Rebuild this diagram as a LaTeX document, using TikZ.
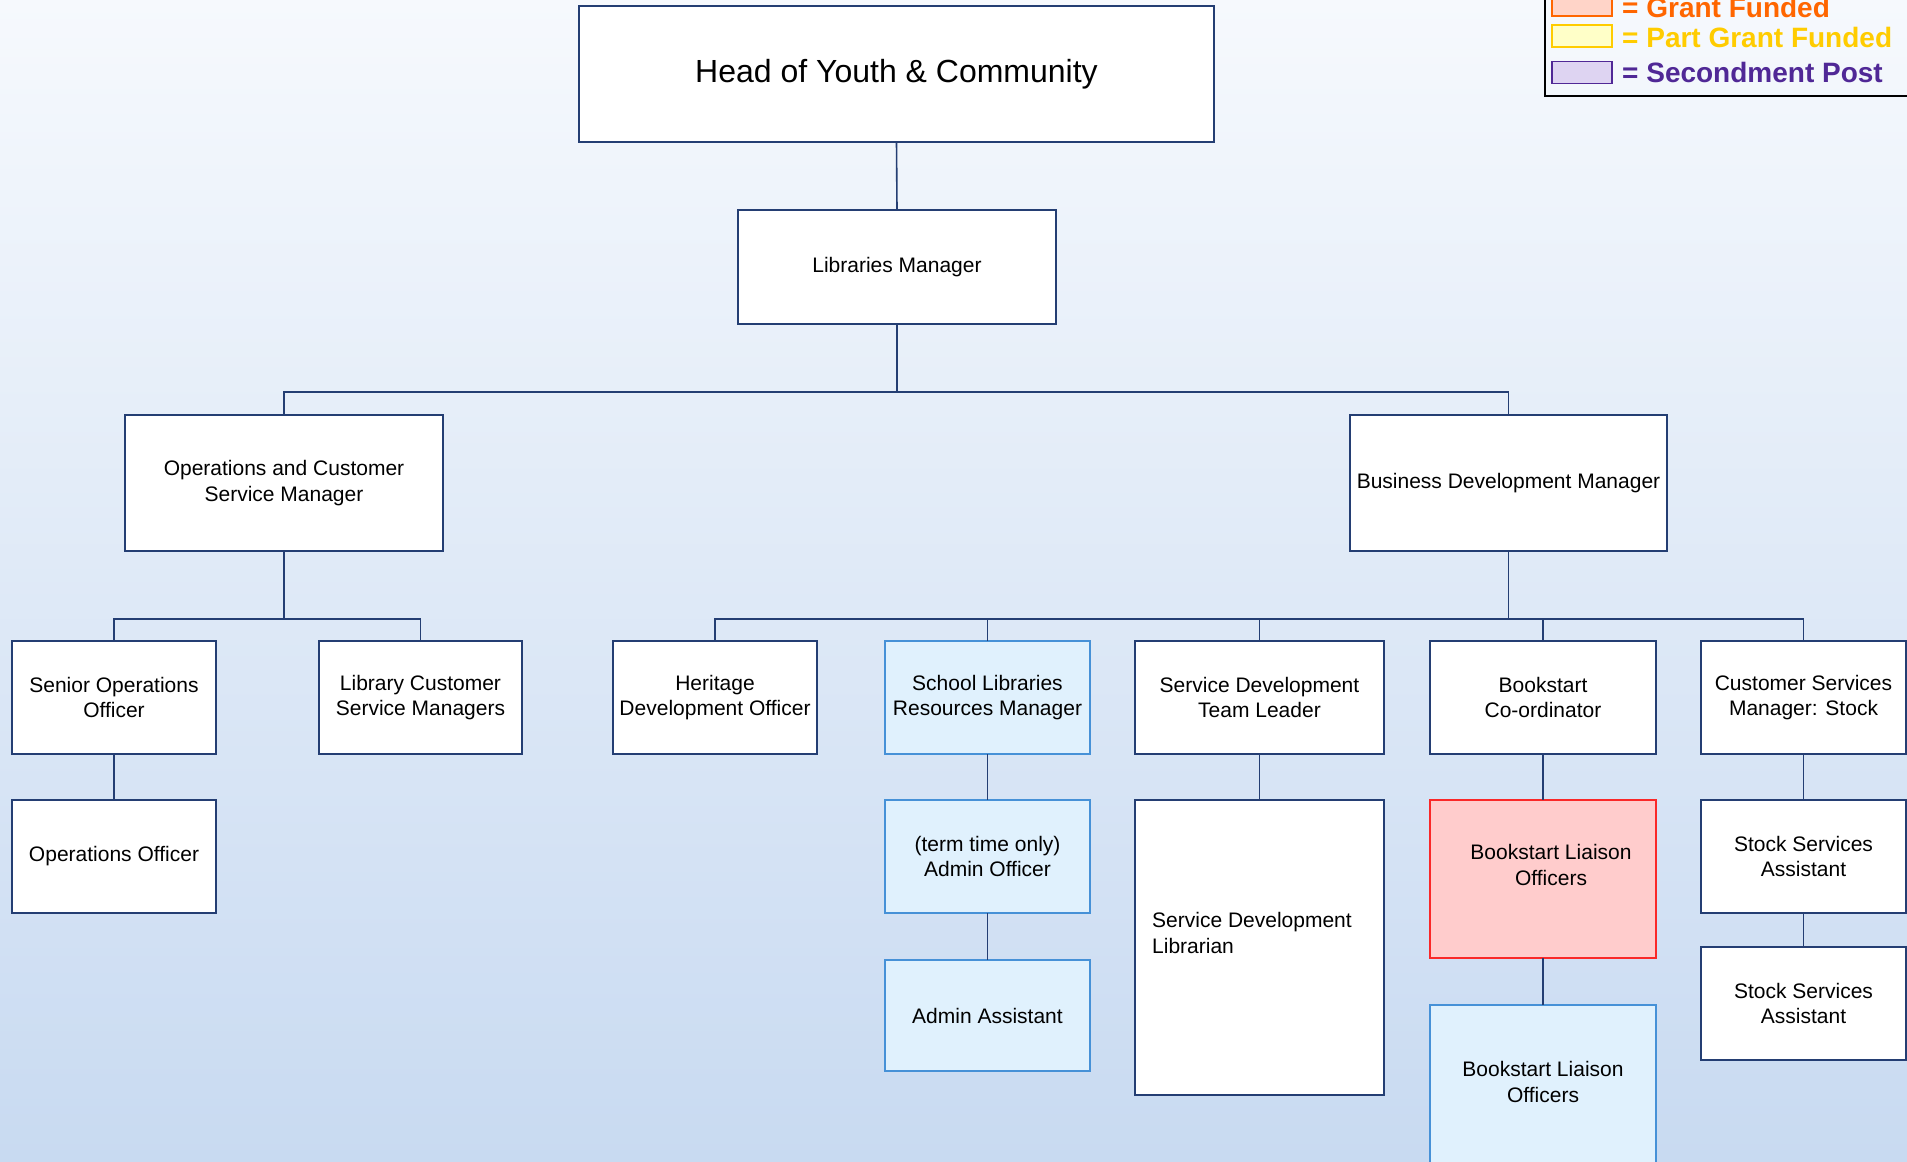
\documentclass[tikz,border=0pt]{standalone}
\usepackage{fontspec}
\setmainfont{Liberation Sans}
\definecolor{lineC}{RGB}{36,62,115}
\definecolor{bgTop}{RGB}{246,249,253}
\definecolor{bgBot}{RGB}{200,218,241}
\definecolor{blueFill}{RGB}{224,241,253}
\definecolor{blueLine}{RGB}{70,145,215}
\definecolor{redFill}{RGB}{255,204,204}
\definecolor{redLine}{RGB}{250,40,40}
\definecolor{grantTxt}{RGB}{255,102,0}
\definecolor{grantFill}{RGB}{255,212,200}
\definecolor{partTxt}{RGB}{255,204,0}
\definecolor{partFill}{RGB}{255,255,200}
\definecolor{secTxt}{RGB}{80,40,150}
\definecolor{secFill}{RGB}{222,212,242}
\begin{document}
\begin{tikzpicture}[x=1pt,y=-1pt,
  box/.style={draw=lineC,line width=1.6pt,fill=white,rectangle,inner sep=0pt,outer sep=0pt,align=center,
     font=\fontsize{21}{25.5}\selectfont},
  bluebox/.style={box,draw=blueLine,line width=1.2pt,fill=blueFill},
  redbox/.style={box,draw=redLine,line width=1.2pt,fill=redFill},
  txt/.style={inner sep=0pt,font=\fontsize{21}{25.5}\selectfont},
  conn/.style={draw=lineC,line width=1.6pt},
  sw/.style={rectangle,line width=1.6pt,inner sep=0pt,minimum width=60pt,minimum height=22pt},
  legtxt/.style={anchor=base west,inner sep=0pt,font=\fontsize{28}{30}\selectfont\bfseries}]
\useasboundingbox (0,0) rectangle (1907,1162);
\clip (0,0) rectangle (1907,1162);
\shade[top color=bgTop,bottom color=bgBot] (0,0) rectangle (1907,1162);

% level 0-2
\node[box,minimum width=635pt,minimum height=136pt,font=\fontsize{32}{36}\selectfont] (head) at (896.5,74) {Head of Youth \& Community};
\node[box,minimum width=318pt,minimum height=114pt] (lib) at (897,267) {Libraries Manager};
\node[box,minimum width=318pt,minimum height=136pt] (ops) at (284,483) {Operations and Customer\\Service Manager};
\node[box,minimum width=317pt,minimum height=136pt] (bdm) at (1508.5,483) {Business Development Manager};

% level 3
\node[box,minimum width=204pt,minimum height=113pt] (sop) at (114,697.5) {Senior Operations\\Officer};
\node[box,minimum width=203pt,minimum height=113pt] (lcs) at (420.5,697.5) {Library Customer\\Service Managers};
\node[box,minimum width=204pt,minimum height=113pt] (her) at (715,697.5) {Heritage\\Development Officer};
\node[bluebox,minimum width=205pt,minimum height=113pt] (slr) at (987.5,697.5) {School Libraries\\Resources Manager};
\node[box,minimum width=249pt,minimum height=113pt] (sdt) at (1259.5,697.5) {Service Development\\Team Leader};
\node[box,minimum width=226pt,minimum height=113pt] (bsc) at (1543,697.5) {Bookstart\\Co-ordinator};
\node[box,minimum width=205pt,minimum height=113pt] (csm) at (1803.5,697.5) {Customer Services\\Manager: Stock};

% level 4
\node[box,minimum width=204pt,minimum height=113pt] (opo) at (114,856.5) {Operations Officer};
\node[bluebox,minimum width=205pt,minimum height=113pt] (ado) at (987.5,856.5) {(term time only)\\Admin Officer};
\node[box,minimum width=249pt,minimum height=295pt] (sdl) at (1259.5,947.5) {};
\node[txt,anchor=west,align=left] (sdltxt) at (1152,933) {Service Development\\Librarian};
\node[redbox,minimum width=226pt,minimum height=158pt] (blr) at (1543,879) {};
\node[txt,align=center] (blrtxt) at (1551,865) {Bookstart Liaison\\Officers};
\node[box,minimum width=205pt,minimum height=113pt] (ss1) at (1803.5,856.5) {Stock Services\\Assistant};

% level 5
\node[bluebox,minimum width=205pt,minimum height=111pt] (ada) at (987.5,1015.5) {Admin Assistant};
\node[box,minimum width=205pt,minimum height=113pt] (ss2) at (1803.5,1003.5) {Stock Services\\Assistant};
\node[bluebox,minimum width=226pt,minimum height=170pt] (blb) at (1543,1090) {};
\node[txt,align=center] (blbtxt) at (1543,1082) {Bookstart Liaison\\Officers};

% connectors
\coordinate (bus1) at (897,392);
\coordinate (bus2l) at (284,619);
\coordinate (bus2r) at (1508.5,619);
\draw[conn] (head.south) -- (lib.north);
\draw[conn] (lib.south) -- (bus1);
\draw[conn] (ops.north) |- (bus1) -| (bdm.north);
\draw[conn] (ops.south) -- (bus2l);
\draw[conn] (sop.north) |- (bus2l) -| (lcs.north);
\draw[conn] (bdm.south) -- (bus2r);
\draw[conn] (her.north) |- (bus2r) -| (csm.north);
\draw[conn] (slr.north) -- (slr.north |- bus2r);
\draw[conn] (sdt.north) -- (sdt.north |- bus2r);
\draw[conn] (bsc.north) -- (bsc.north |- bus2r);
\draw[conn] (sop.south) -- (opo.north);
\draw[conn] (slr.south) -- (ado.north);
\draw[conn] (ado.south) -- (ada.north);
\draw[conn] (sdt.south) -- (sdl.north);
\draw[conn] (bsc.south) -- (blr.north);
\draw[conn] (blr.south) -- (blb.north);
\draw[conn] (csm.south) -- (ss1.north);
\draw[conn] (ss1.south) -- (ss2.north);

% legend
\node[draw=black,line width=2pt,rectangle,inner sep=0pt,minimum width=380pt,minimum height=120pt] (leg) at (1735,36) {};
\node[sw,draw=grantTxt,fill=grantFill] (sw1) at (1582,5) {};
\node[sw,draw=partTxt,fill=partFill] (sw2) at (1582,36) {};
\node[sw,draw=secTxt,fill=secFill] (sw3) at (1582,72.5) {};
\node[legtxt,text=grantTxt] (l1) at (1622,17) {= Grant Funded};
\node[legtxt,text=partTxt] (l2) at (1622,47) {= Part Grant Funded};
\node[legtxt,text=secTxt] (l3) at (1622,82) {= Secondment Post};
\end{tikzpicture}
\end{document}
